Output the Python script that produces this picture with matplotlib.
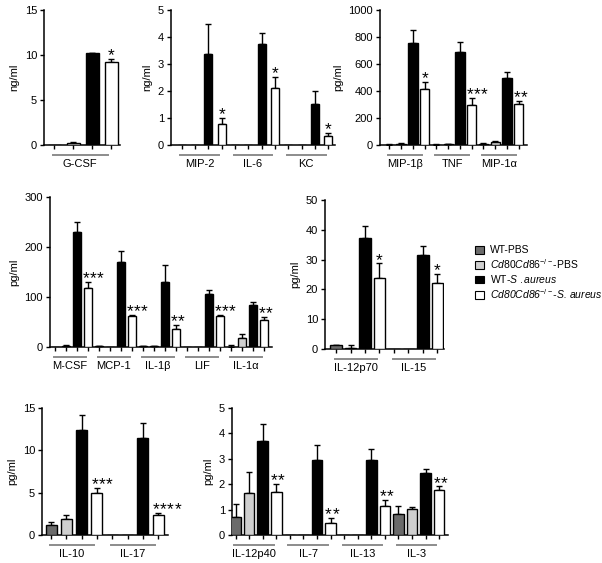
import matplotlib
matplotlib.use("Agg")
import matplotlib.pyplot as plt
from matplotlib.patches import Patch
from matplotlib.lines import Line2D
from matplotlib.transforms import offset_copy

plt.rcParams["font.family"] = ["Liberation Sans", "DejaVu Sans"]
plt.rcParams["mathtext.fontset"] = "custom"
plt.rcParams["mathtext.rm"] = "Liberation Sans"
plt.rcParams["mathtext.it"] = "Liberation Sans:italic"

# order of bars inside each group: WT-PBS, Cd80Cd86-/- PBS, WT-S.aureus, Cd80Cd86-/- S.aureus
colors = ["#6b6b6b", "#cfcfcf", "#000000", "#ffffff"]
legend_labels = ["WT-PBS",
                 r"$\it{Cd80Cd86}^{-/-}$-PBS",
                 r"WT-$\it{S}$ $\it{.aureus}$",
                 r"Cd80Cd86$^{-/-}$-S. aureus"]

p1_groups = ["G-CSF"]
p1_mean = [[0.05, 0.2, 10.2, 9.2]]
p1_err = [[0, 0.1, 0.05, 0.4]]
p1_stars = ["*"]

p2_groups = ["MIP-2", "IL-6", "KC"]
p2_mean = [[0, 0, 3.38, 0.77], [0, 0, 3.75, 2.1], [0, 0, 1.53, 0.33]]
p2_err = [[0, 0, 1.1, 0.22], [0, 0, 0.39, 0.42], [0, 0, 0.47, 0.13]]
p2_stars = ["*", "*", "*"]

p3_groups = ["MIP-1β", "TNF", "MIP-1α"]
p3_mean = [[3, 6, 755, 415], [2, 5, 688, 300], [10, 20, 494, 303]]
p3_err = [[4, 6, 100, 55], [3, 4, 75, 48], [5, 10, 45, 25]]
p3_stars = ["*", "***", "**"]

p4_groups = ["M-CSF", "MCP-1", "IL-1β", "LIF", "IL-1α"]
p4_mean = [[1, 3, 231, 119], [2, 1, 171, 62], [2, 2, 131, 37],
           [0, 1, 106, 62], [1, 19, 84, 54]]
p4_err = [[0, 1, 19, 12], [1, 0, 22, 3], [1, 1, 33, 8],
          [0, 0, 9, 3], [4, 8, 6, 6]]
p4_stars = ["***", "***", "**", "***", "**"]

p5_groups = ["IL-12p70", "IL-15"]
p5_mean = [[1.2, 0.5, 37.4, 23.9], [0, 0, 31.4, 22.2]]
p5_err = [[0.3, 0.7, 3.9, 4.8], [0, 0, 3.1, 2.9]]
p5_stars = ["*", "*"]

p6_groups = ["IL-10", "IL-17"]
p6_mean = [[1.15, 1.86, 12.45, 5.0], [0, 0, 11.5, 2.37]]
p6_err = [[0.35, 0.5, 1.7, 0.5], [0, 0, 1.7, 0.28]]
p6_stars = ["***", "****"]

p7_groups = ["IL-12p40", "IL-7", "IL-13", "IL-3"]
p7_mean = [[0.7, 1.64, 3.72, 1.68], [0, 0, 2.96, 0.49],
           [0, 0, 2.96, 1.14], [0.84, 1.03, 2.45, 1.78]]
p7_err = [[0.51, 0.86, 0.65, 0.33], [0, 0, 0.58, 0.17],
          [0, 0, 0.43, 0.22], [0.3, 0.06, 0.14, 0.13]]
p7_stars = ["**", "**", "**", "**"]

W, H = 602, 563
fig = plt.figure(figsize=(W / 100, H / 100), dpi=100)


def panel(box, xlim, width, groups, mean, err, stars, ymax, ystep, ylabel):
    l, t, r, b = box
    ax = fig.add_axes([l / W, 1 - b / H, (r - l) / W, (b - t) / H])
    xs = []
    k = 1
    for gi, g in enumerate(groups):
        gx = []
        for ci in range(4):
            x = k
            k += 1
            gx.append(x)
            m = mean[gi][ci]
            e = err[gi][ci]
            ax.bar(x, m, width=width, color=colors[ci], edgecolor="black",
                   linewidth=1.0, zorder=3)
            if e > 0:
                ax.errorbar(x, m, yerr=[[0], [e]], fmt="none", ecolor="black",
                            elinewidth=1.0, capsize=2, capthick=1.0, zorder=2)
        xs.extend(gx)
        # significance stars over the last bar; several stars run to the right
        top = mean[gi][3] + err[gi][3]
        n = len(stars[gi])
        for si in range(n):
            dx = 0 if n == 1 else -1.5 + si * 5.25
            ax.annotate("*", (gx[3], top), xytext=(dx, -3),
                        textcoords="offset points", ha="center", va="bottom",
                        fontsize=12.5, zorder=6)
        # grey underline + group name
        tr = offset_copy(ax.get_xaxis_transform(), fig=fig, y=-10, units="dots")
        ax.add_line(Line2D([gx[0] - 0.1, gx[3] - 0.2], [0, 0], transform=tr,
                           color="#8c8c8c", lw=1.4, clip_on=False))
        tr2 = offset_copy(ax.get_xaxis_transform(), fig=fig, y=-19, units="dots")
        ax.text((gx[0] + gx[3] - 0.3) / 2, 0, g, transform=tr2, ha="center",
                va="center", fontsize=8)
    ax.set_xlim(*xlim)
    ax.set_ylim(0, ymax)
    ax.set_xticks(xs)
    ax.set_xticklabels([])
    ax.set_yticks([ystep * i for i in range(int(round(ymax / ystep)) + 1)])
    ax.set_ylabel(ylabel, fontsize=8, labelpad=4)
    ax.tick_params(axis="both", direction="out", length=3, width=1.0,
                   labelsize=8, pad=2)
    for s in ["top", "right"]:
        ax.spines[s].set_visible(False)
    for s in ["left", "bottom"]:
        ax.spines[s].set_linewidth(1.1)
    return ax


panel((44, 10, 120, 145), (0.45, 4.45), 0.68, p1_groups, p1_mean, p1_err,
      p1_stars, 15, 5, "ng/ml")
panel((171, 10, 335, 145), (0.2, 12.5), 0.6, p2_groups, p2_mean, p2_err,
      p2_stars, 5, 1, "ng/ml")
panel((380, 10, 527, 145), (0.2, 12.7), 0.8, p3_groups, p3_mean, p3_err,
      p3_stars, 1000, 200, "pg/ml")
panel((50, 197, 272, 347), (0.55, 20.73), 0.8, p4_groups, p4_mean, p4_err,
      p4_stars, 300, 100, "pg/ml")
panel((325, 200, 444, 349), (0.24, 8.45), 0.8, p5_groups, p5_mean, p5_err,
      p5_stars, 50, 10, "pg/ml")
panel((42, 408, 168, 535), (0.4, 8.65), 0.72, p6_groups, p6_mean, p6_err,
      p6_stars, 15, 5, "pg/ml")
panel((232, 408, 448, 535), (0.74, 16.65), 0.78, p7_groups, p7_mean, p7_err,
      p7_stars, 5, 1, "pg/ml")

handles = [Patch(facecolor=c, edgecolor="black", linewidth=0.8) for c in colors]
leg = fig.legend(handles, legend_labels, loc="upper left",
                 bbox_to_anchor=(471 / W, 1 - 241 / H), frameon=False,
                 fontsize=7.5, handlelength=0.8, handleheight=0.8,
                 labelspacing=0.2, handletextpad=0.6, borderaxespad=0)
leg.get_texts()[3].set_fontstyle("italic")

fig.savefig("out.png", dpi=100)
